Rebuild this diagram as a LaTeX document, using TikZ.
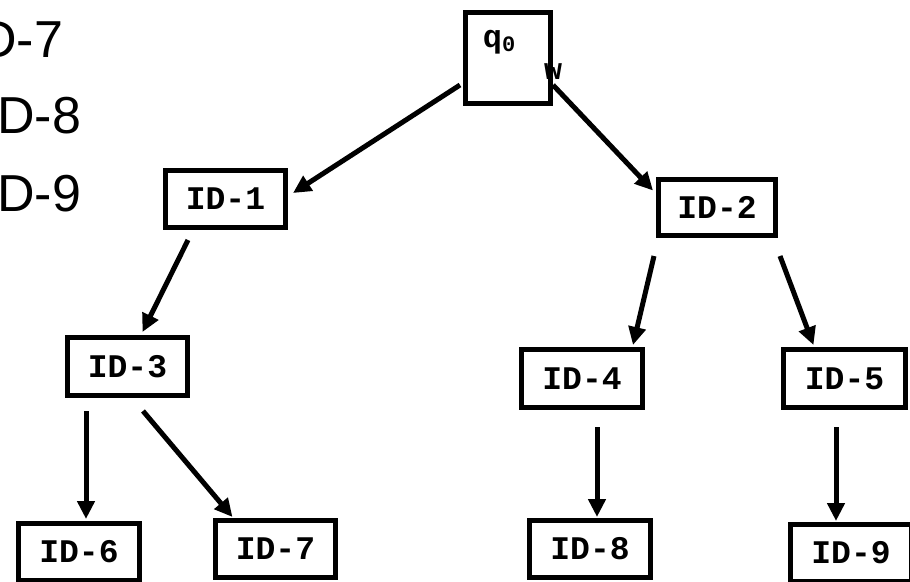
\documentclass[tikz,border=0pt]{standalone}
\usepackage{fontspec}
\setmainfont{Liberation Sans}
\newfontfamily\monob{Liberation Mono}[BoldFont={* Bold}]
\usetikzlibrary{arrows.meta}
\tikzset{
  idbox/.style={draw=black, line width=5pt, minimum width=120pt, minimum height=57pt,
    inner sep=0pt, font=\monob\bfseries\fontsize{33}{33}\selectfont},
  arr/.style={line width=5pt, -{Triangle[length=18pt,width=17pt]}},
  bigtxt/.style={anchor=base west, inner sep=0pt, font=\fontsize{52}{52}\selectfont}
}
\begin{document}
\begin{tikzpicture}[x=1pt,y=-1pt]
\useasboundingbox (0,0) rectangle (910,581);
\clip (0,0) rectangle (910,581);
\fill[white] (0,0) rectangle (910,581);
% left text
\node[bigtxt] (t7) at (-21,57) {D-7};
\node[bigtxt] (t8) at (-3,133) {D-8};
\node[bigtxt] (t9) at (-3,211) {D-9};
% root
\node[draw=black, line width=5pt, minimum width=85pt, minimum height=91pt, inner sep=0pt] (q0) at (508,58) {};
\node[inner sep=0pt, font=\monob\bfseries\fontsize{32}{32}\selectfont] (ql) at (499,42) {q\raisebox{-4pt}{\fontsize{22}{22}\selectfont 0}};
\node[inner sep=0pt, font=\monob\bfseries\fontsize{30}{30}\selectfont] (wl) at (553,72) {w};
% boxes
\node[idbox] (id1) at (225.5,199) {ID-1};
\node[idbox, minimum width=117pt, minimum height=56pt] (id2) at (717,207.5) {ID-2};
\node[idbox, minimum height=58pt] (id3) at (127.5,366.5) {ID-3};
\node[idbox, minimum width=121pt, minimum height=58pt] (id4) at (582,378.5) {ID-4};
\node[idbox, minimum width=122pt, minimum height=58pt] (id5) at (844.5,378.5) {ID-5};
\node[idbox, minimum width=121pt] (id6) at (79,552) {ID-6};
\node[idbox] (id7) at (275.5,549) {ID-7};
\node[idbox, minimum width=121pt] (id8) at (590,549) {ID-8};
\node[idbox, minimum width=121pt] (id9) at (851,553) {ID-9};
% connector start points
\coordinate (s1) at (460,85);
\coordinate (s2) at (553,85);
\coordinate (s3) at (188,240);
\coordinate (s4) at (654,256);
\coordinate (s5) at (780,256);
\coordinate (s6) at (86,411);
\coordinate (s7) at (143,411);
\coordinate (s8) at (597,427);
\coordinate (s9) at (836,427);
% arrows
\draw[arr] (s1) -- ([shift={(5,-6)}]id1.east);
\draw[arr] (s2) -- ([shift={(-3,-17)}]id2.west);
\draw[arr] (s3) -- ([shift={(15,-3)}]id3.north);
\draw[arr] (s4) -- ([shift={(51,-2)}]id4.north);
\draw[arr] (s5) -- ([shift={(-31,-2)}]id5.north);
\draw[arr] (s6) -- ([shift={(7,-2)}]id6.north);
\draw[arr] (s7) -- ([shift={(-43,-1)}]id7.north);
\draw[arr] (s8) -- ([shift={(7,-1)}]id8.north);
\draw[arr] (s9) -- ([shift={(-15,-1)}]id9.north);
\end{tikzpicture}
\end{document}
